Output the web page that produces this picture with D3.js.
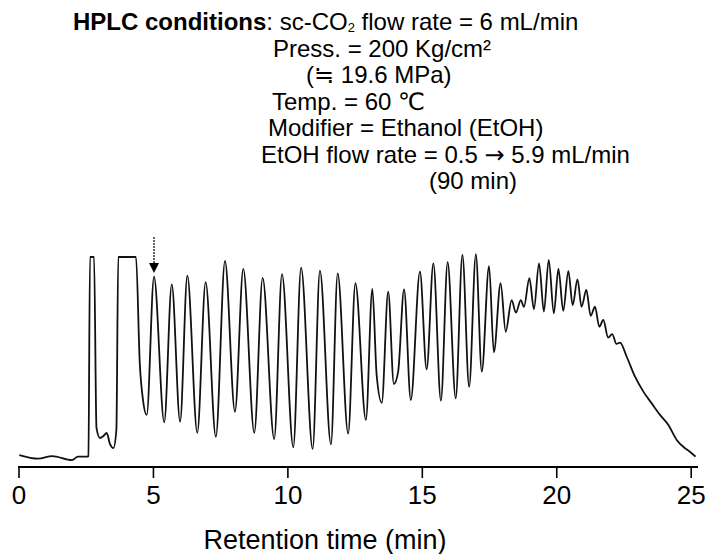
<!DOCTYPE html>
<html>
<head>
<meta charset="utf-8">
<script src="https://cdn.jsdelivr.net/npm/d3@7"></script>
<style>
  body { margin: 0; background: #fff; }
  text { font-family: "Liberation Sans", Arial, "DejaVu Sans", sans-serif; fill: #000; }
</style>
</head>
<body>
<div id="chart"></div>
<script>
var W = 707, H = 554;

// retention time (min) of the traced turning points
var times = [0.03, 0.73, 1.25, 1.99, 2.21, 2.55, 2.60, 2.66, 2.81, 2.90, 3.03, 3.16, 3.28, 3.40, 3.53, 3.64, 3.71, 4.37,
  4.51, 4.63, 4.77, 5.04, 5.42, 5.70, 6.01, 6.28, 6.65, 6.96, 7.34, 7.68, 8.05, 8.36, 8.77, 9.08, 9.51, 9.80,
  10.22, 10.51, 10.94, 11.21, 11.62, 11.87, 12.26, 12.53, 12.92, 13.16, 13.32, 13.51, 13.75, 13.96, 14.12, 14.34,
  14.59, 14.93, 15.18, 15.43, 15.71, 15.96, 16.26, 16.51, 16.76, 17.01, 17.23, 17.50, 17.68, 17.93, 18.12, 18.34,
  18.50, 18.68, 18.80, 19.00, 19.17, 19.36, 19.54, 19.72, 19.91, 20.08, 20.26, 20.45, 20.61, 20.79, 20.94, 21.12,
  21.28, 21.44, 21.60, 21.75, 21.93, 22.08, 22.24, 22.37, 22.62, 22.93, 23.24, 23.55, 23.86, 24.17, 24.48, 24.79,
  24.97, 25.18];
// detector response (relative, off-scale peaks cut at 100)
var signal = [5.7, 4.0, 5.2, 3.3, 4.9, 4.9, 5.2, 100, 100, 18.6, 13.8, 14.8, 16.2, 11.0, 9.0, 17.6, 100, 100,
  49.5, 31.9, 24.8, 90.6, 21.3, 87.0, 21.6, 91.1, 16.3, 88.0, 14.4, 98.1, 26.3, 94.3, 16.3, 90.1, 13.3, 91.8,
  9.4, 94.9, 8.6, 93.5, 10.8, 92.2, 15.9, 87.5, 22.4, 84.8, 43.8, 30.6, 83.5, 39.5, 45.4, 84.6,
  31.9, 93.0, 46.5, 97.0, 31.6, 97.5, 32.7, 101.0, 38.2, 101.3, 45.4, 95.7, 54.6, 87.5, 64.4, 79.5,
  73.5, 79.5, 76.3, 89.9, 75.2, 97.0, 74.0, 98.6, 73.2, 94.3, 74.4, 93.3, 77.1, 89.3, 76.3, 84.3,
  72.0, 76.3, 66.8, 70.0, 61.6, 63.3, 58.6, 59.2, 52.5, 43.0, 35.9, 30.3, 24.8, 20.0, 12.9, 8.9,
  7.3, 4.9];

var xTicks = [0, 5, 10, 15, 20, 25];
var markedPeak = 5.04;

// left edge of each condition line under the heading
var condX = [273, 306, 272, 268, 261, 429];

var svg = d3.select("#chart").append("svg")
  .attr("width", W)
  .attr("height", H);
svg.append("rect").attr("width", W).attr("height", H).attr("fill", "#fff");

var x = d3.scaleLinear().domain([0, 25]).range([18.5, 690.7]);
var y = d3.scaleLinear().domain([0, 100]).range([467, 257]);

// header text
var head = svg.append("text").attr("x", 73).attr("y", 30).style("font-size", "24px");
head.append("tspan").style("font-weight", "bold").text("HPLC conditions");
head.append("tspan").text(": sc-CO");
head.append("tspan").attr("dy", 2).style("font-size", "13px").text("2");
head.append("tspan").attr("dy", -2).text(" flow rate = 6 mL/min");

function condLine(n) {
  return svg.append("text")
    .attr("x", condX[n])
    .attr("y", 57 + n * 26.4)
    .style("font-size", "24px");
}
condLine(0).text("Press. = 200 Kg/cm\u00b2");
condLine(1).text("(\u2252 19.6 MPa)");
condLine(2).text("Temp. = 60 \u2103");
condLine(3).text("Modifier = Ethanol (EtOH)");
var flow = condLine(4);
flow.append("tspan").text("EtOH flow rate = 0.5 ");
flow.append("tspan").style("font-family", "DejaVu Sans").text("\u2192");
flow.append("tspan").text(" 5.9 mL/min");
condLine(5).text("(90 min)");

// x axis
var axis = svg.append("g")
  .attr("transform", "translate(0,467)")
  .call(d3.axisBottom(x).tickValues(xTicks).tickSize(11).tickPadding(8).tickSizeOuter(0));
axis.select(".domain").attr("d", "M18,0H698").style("stroke-width", 2);
axis.selectAll(".tick line").style("stroke-width", 1.6);
axis.selectAll(".tick text").style("font-size", "26px").style("font-family", "Liberation Sans, Arial, sans-serif");

svg.append("text")
  .attr("x", 325).attr("y", 549)
  .attr("text-anchor", "middle")
  .style("font-size", "27px")
  .text("Retention time (min)");

// chromatogram
var line = d3.line()
  .x(function(d, i) { return x(times[i]); })
  .y(function(d) { return y(d); })
  .curve(d3.curveMonotoneX);

svg.append("path")
  .datum(signal)
  .attr("d", line)
  .attr("fill", "none")
  .attr("stroke", "#111")
  .attr("stroke-width", 1.8)
  .attr("stroke-linejoin", "round");

// arrow on the marked peak
var ax = x(markedPeak);
svg.append("line")
  .attr("x1", ax).attr("x2", ax)
  .attr("y1", 237).attr("y2", 264)
  .attr("stroke", "#111").attr("stroke-width", 1.3)
  .attr("stroke-dasharray", "2,1");
svg.append("path")
  .attr("d", "M" + (ax - 5) + ",263L" + (ax + 5) + ",263L" + ax + ",273Z")
  .attr("fill", "#000");
</script>
</body>
</html>
